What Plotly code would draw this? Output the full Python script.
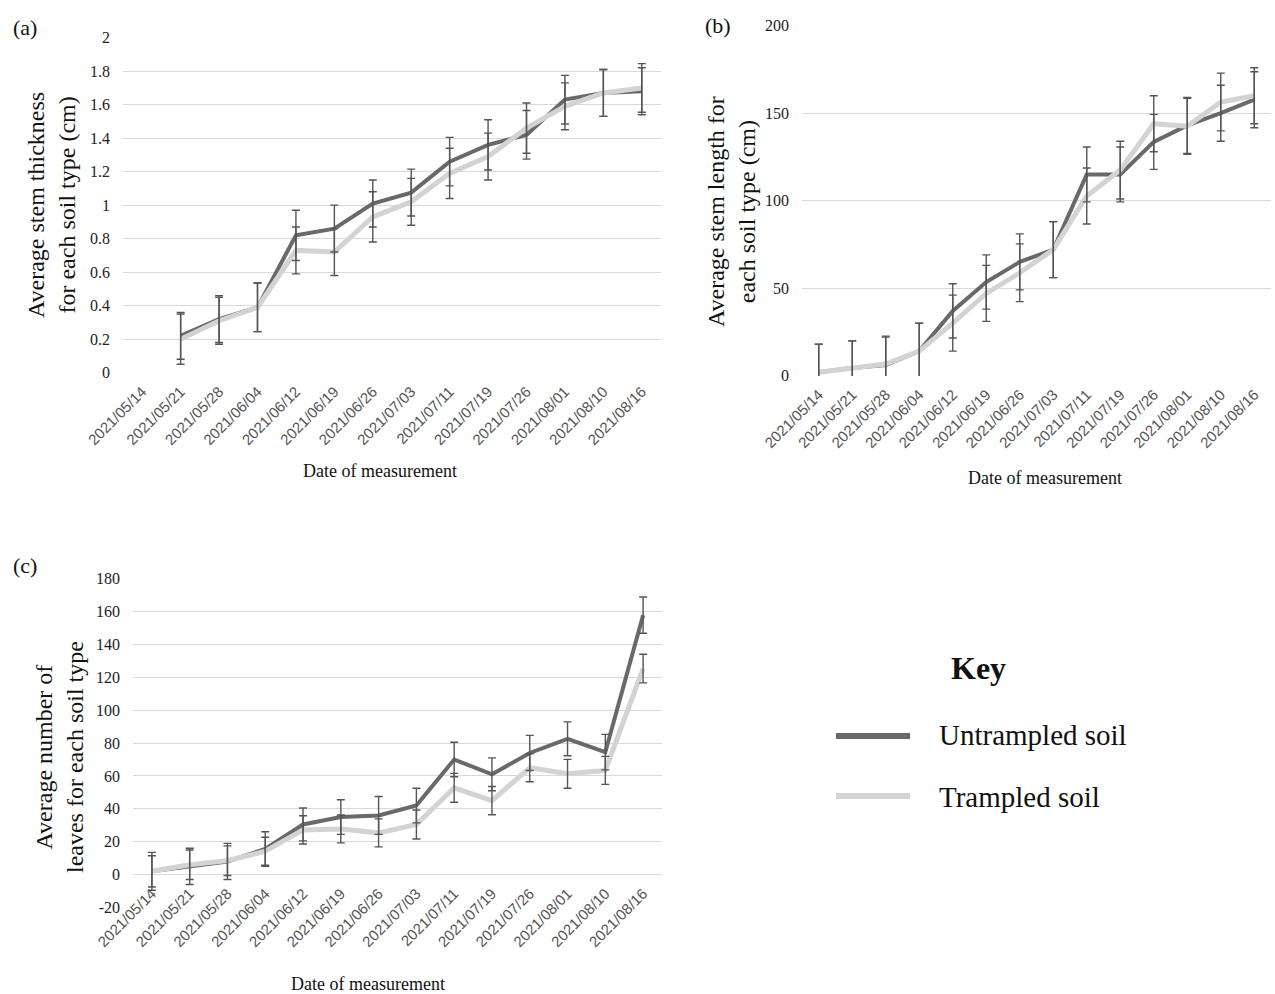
import plotly.graph_objects as go

dates = ["2021/05/14", "2021/05/21", "2021/05/28", "2021/06/04", "2021/06/12",
         "2021/06/19", "2021/06/26", "2021/07/03", "2021/07/11", "2021/07/19",
         "2021/07/26", "2021/08/01", "2021/08/10", "2021/08/16"]

# (a) stem thickness (cm) - no measurement on first date
thick_untrampled = [None, 0.22, 0.32, 0.39, 0.82, 0.86, 1.01, 1.075, 1.26, 1.36, 1.42, 1.63, 1.67, 1.68]
thick_trampled = [None, 0.20, 0.31, 0.39, 0.73, 0.72, 0.93, 1.02, 1.19, 1.29, 1.46, 1.59, 1.67, 1.70]
thick_untrampled_err = [None, 0.14, 0.14, 0.145, 0.15, 0.14, 0.14, 0.14, 0.145, 0.15, 0.145, 0.145, 0.14, 0.14]
thick_trampled_err = [None, 0.15, 0.14, 0.145, 0.14, 0.14, 0.15, 0.14, 0.15, 0.14, 0.15, 0.14, 0.14, 0.145]

# (b) stem length (cm)
length_untrampled = [2, 4.4, 6, 14, 37, 53.5, 65, 72, 115, 115, 133.6, 143, 150, 157.7]
length_trampled = [2, 4.4, 6.6, 14, 30, 47, 58.8, 72, 102.7, 117.5, 144, 142.5, 156.4, 160]
length_untrampled_err = [16, 15.5, 16, 16, 15.5, 15.5, 16, 16, 15.7, 15.7, 15.7, 16, 16, 16]
length_trampled_err = [16, 15.5, 16, 16, 16, 16, 16.5, 16, 16, 16.5, 16, 16, 16.5, 16]

# (c) number of leaves
leaves_untrampled = [2, 5, 8, 15.6, 30.5, 35, 36, 42, 70, 61, 74, 82.6, 74.5, 157.8]
leaves_trampled = [2, 6, 8.5, 14.2, 27.2, 27.8, 25.4, 30.5, 52.8, 45, 65, 61.3, 63.4, 125.3]
leaves_untrampled_err = [11.5, 11, 11, 10.5, 10, 10.5, 11.5, 10.5, 10.5, 10, 10.7, 10.3, 10.8, 11]
leaves_trampled_err = [9.5, 9, 9, 8.5, 8.6, 8.5, 8.5, 8.8, 8.8, 8.6, 8.5, 8.8, 8.5, 8.7]

leaves_tickvals = [-20, 0, 20, 40, 60, 80, 100, 120, 140, 160, 180]
leaves_ticktext = ["-20", "0", "20", "40", "60", "80", "100", "120", "140", "160", "180"]

series_names = ["Untrampled soil", "Trampled soil"]

W, H = 1275, 994
DARK = "#696969"
LIGHT = "#d3d3d3"
ERR = "#555555"
GRID = "#d9d9d9"
SERIF = "Liberation Serif, Times New Roman, serif"
SANS = "Liberation Sans, Arial, sans-serif"

def px(x):
    return x / W

def py(y):
    return 1 - y / H

fig = go.Figure()

panels = [
    ("x", "y", thick_untrampled, thick_trampled, thick_untrampled_err, thick_trampled_err),
    ("x2", "y2", length_untrampled, length_trampled, length_untrampled_err, length_trampled_err),
    ("x3", "y3", leaves_untrampled, leaves_trampled, leaves_untrampled_err, leaves_trampled_err),
]

for xa, ya, du, dt, eu, et in panels:
    fig.add_trace(go.Scatter(x=dates, y=du, mode="lines", name=series_names[0],
                             line=dict(color=DARK, width=4), xaxis=xa, yaxis=ya,
                             showlegend=False, connectgaps=False))
    fig.add_trace(go.Scatter(x=dates, y=dt, mode="lines", name=series_names[1],
                             line=dict(color=LIGHT, width=5), xaxis=xa, yaxis=ya,
                             showlegend=False, connectgaps=False))
    for vals, errs in ((du, eu), (dt, et)):
        fig.add_trace(go.Scatter(x=dates, y=vals, mode="markers",
                                 marker=dict(size=1, color="rgba(0,0,0,0)"),
                                 error_y=dict(type="data", array=errs, visible=True,
                                              color=ERR, thickness=1.4, width=4),
                                 xaxis=xa, yaxis=ya, showlegend=False, hoverinfo="skip"))

n_cat = len(dates)
xaxis_common = dict(type="category", categoryorder="array", categoryarray=dates,
                    range=[-0.5, n_cat - 0.5],
                    tickangle=-45, tickfont=dict(family=SANS, size=15, color="#555555"),
                    showgrid=False, showline=False, zeroline=False, ticks="",
                    ticklabelstandoff=6, fixedrange=True, automargin=False)
yaxis_common = dict(showgrid=True, gridcolor=GRID, gridwidth=1, zeroline=False,
                    showline=False, ticks="", tickfont=dict(family=SERIF, size=16, color="#222"),
                    ticklabelstandoff=12, fixedrange=True, automargin=False)

fig.update_layout(
    width=W, height=H, autosize=False,
    margin=dict(l=0, r=0, t=0, b=0, pad=0, autoexpand=False),
    paper_bgcolor="white", plot_bgcolor="white",
    showlegend=False,
    xaxis=dict(domain=[px(123), px(661)], anchor="y", **xaxis_common),
    yaxis=dict(domain=[py(373), py(37)], anchor="x", range=[-0.002, 2.004], dtick=0.2, tick0=0, **yaxis_common),
    xaxis2=dict(domain=[px(802), px(1271)], anchor="y2", **xaxis_common),
    yaxis2=dict(domain=[py(376), py(25)], anchor="x2", range=[-0.2, 200.4], dtick=50, tick0=0, **yaxis_common),
    # category axis of (c) crosses the value axis at 0, as in the reference
    xaxis3=dict(domain=[px(133), px(662)], anchor="free", position=py(875), **xaxis_common),
    yaxis3=dict(domain=[py(908), py(578)], anchor="x3", range=[-20.3, 180.4],
                tickvals=leaves_tickvals, ticktext=leaves_ticktext, **yaxis_common),
)

annotations = [
    dict(text="(a)", x=px(25), y=py(28)),
    dict(text="(b)", x=px(718), y=py(25)),
    dict(text="(c)", x=px(25), y=py(565)),
]
for a in annotations:
    a.update(xref="paper", yref="paper", showarrow=False, font=dict(family=SERIF, size=22, color="#111"),
             xanchor="center", yanchor="middle")

titles = [
    dict(text="Average stem thickness<br>for each soil type (cm)", x=px(52), y=py(205), textangle=-90),
    dict(text="Average stem length for<br>each soil type (cm)", x=px(731), y=py(212), textangle=-90),
    dict(text="Average number of<br>leaves for each soil type", x=px(59), y=py(757), textangle=-90),
]
for t in titles:
    t.update(xref="paper", yref="paper", showarrow=False, font=dict(family=SERIF, size=24, color="#111"),
             xanchor="center", yanchor="middle")

xtitles = [
    dict(text="Date of measurement", x=px(380), y=py(471)),
    dict(text="Date of measurement", x=px(1045), y=py(478)),
    dict(text="Date of measurement", x=px(368), y=py(984)),
]
for t in xtitles:
    t.update(xref="paper", yref="paper", showarrow=False, font=dict(family=SERIF, size=18, color="#111"),
             xanchor="center", yanchor="middle")

key = [
    dict(text="<b>Key</b>", x=px(978), y=py(668), font=dict(family=SERIF, size=32, color="#111"),
         xanchor="center"),
    dict(text=series_names[0], x=px(937), y=py(735), font=dict(family=SERIF, size=29, color="#111"),
         xanchor="left"),
    dict(text=series_names[1], x=px(937), y=py(797), font=dict(family=SERIF, size=29, color="#111"),
         xanchor="left"),
]
for k in key:
    k.update(xref="paper", yref="paper", showarrow=False, yanchor="middle")

fig.update_layout(annotations=annotations + titles + xtitles + key)

fig.add_shape(type="line", xref="paper", yref="paper", x0=px(836), x1=px(910), y0=py(736), y1=py(736),
              line=dict(color=DARK, width=6))
fig.add_shape(type="line", xref="paper", yref="paper", x0=px(836), x1=px(910), y0=py(796), y1=py(796),
              line=dict(color=LIGHT, width=6))

fig.write_html("out.html", config={"displayModeBar": False},
               post_script="document.body.style.margin='0';document.body.style.overflow='hidden';")
